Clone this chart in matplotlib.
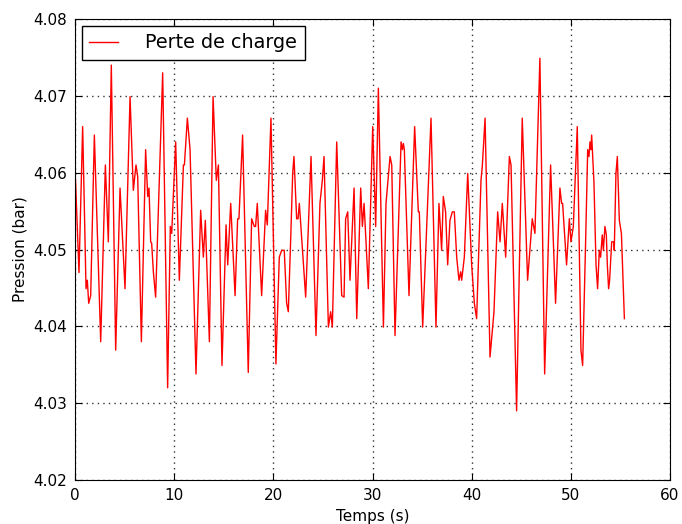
import matplotlib
matplotlib.use("Agg")
import matplotlib.pyplot as plt
from matplotlib.ticker import FormatStrFormatter

temps = [0.05, 0.4, 0.77, 1.11, 1.24, 1.38, 1.58, 1.95, 2.59, 3.06, 3.36, 3.66,
         4.10, 4.54, 5.04, 5.55, 5.88, 6.15, 6.32, 6.69, 7.12, 7.33, 7.46, 7.63,
         7.73, 7.90, 8.13, 8.84, 9.34, 9.61, 9.75, 10.15, 10.52, 10.93, 11.03,
         11.33, 11.6, 12.2, 12.67, 12.94, 13.14, 13.55, 13.92, 14.25, 14.46,
         14.82, 15.23, 15.4, 15.7, 16.14, 16.4, 16.53, 16.9, 17.47, 17.81,
         18.08, 18.21, 18.38, 18.82, 19.22, 19.39, 19.76, 20.26, 20.6, 20.84,
         21.1, 21.34, 21.51, 21.74, 21.95, 22.08, 22.35, 22.49, 22.62, 23.26,
         23.8, 24.3, 24.7, 24.94, 25.11, 25.55, 25.78, 25.95, 26.39, 26.89,
         27.13, 27.29, 27.5, 27.73, 28.14, 28.41, 28.81, 28.98, 29.15, 29.58,
         30.02, 30.32, 30.59, 31.1, 31.36, 31.77, 31.94, 32.27, 32.88, 33.01,
         33.11, 33.21, 33.68, 34.25, 34.62, 34.72, 35.06, 35.9, 36.4, 36.7,
         36.97, 37.14, 37.37, 37.58, 37.81, 38.05, 38.25, 38.49, 38.72, 38.89,
         38.99, 39.26, 39.6, 40.0, 40.27, 40.4, 40.5, 40.94, 41.08, 41.35,
         41.85, 42.25, 42.62, 42.86, 43.09, 43.43, 43.8, 43.97, 44.53, 45.1,
         45.64, 46.11, 46.38, 46.88, 47.36, 47.96, 48.46, 48.9, 49.07, 49.17,
         49.57, 49.85, 50.01, 50.25, 50.65, 51.02, 51.19, 51.49, 51.70, 51.83,
         51.93, 52.03, 52.1, 52.33, 52.54, 52.7, 52.87, 53.0, 53.17, 53.28,
         53.44, 53.58, 53.68, 53.81, 53.91, 54.12, 54.35, 54.38, 54.55, 54.69,
         54.89, 55.1, 55.4]

pression = [4.0590, 4.0470, 4.0660, 4.0449, 4.0460, 4.0430, 4.0440, 4.0649,
            4.0380, 4.0610, 4.0510, 4.0740, 4.0369, 4.0580, 4.0449, 4.0699,
            4.0577, 4.0610, 4.0595, 4.0380, 4.0630, 4.0569, 4.0580, 4.0510,
            4.0508, 4.0471, 4.0438, 4.0730, 4.0320, 4.0530, 4.0521, 4.0640,
            4.0460, 4.0610, 4.0610, 4.0671, 4.0630, 4.0338, 4.0551, 4.0490,
            4.0538, 4.0380, 4.0699, 4.0590, 4.0610, 4.0349, 4.0532, 4.0480,
            4.0560, 4.0440, 4.0540, 4.0540, 4.0649, 4.0340, 4.0540, 4.0530,
            4.0530, 4.0560, 4.0440, 4.0551, 4.0532, 4.0671, 4.0351, 4.0490,
            4.0499, 4.0499, 4.0430, 4.0419, 4.0510, 4.0599, 4.0621, 4.0540,
            4.0540, 4.0560, 4.0438, 4.0621, 4.0388, 4.0560, 4.0590, 4.0621,
            4.0399, 4.0419, 4.0399, 4.0640, 4.0440, 4.0438, 4.0540, 4.0549,
            4.0460, 4.0580, 4.0410, 4.0580, 4.0530, 4.0560, 4.0449, 4.0660,
            4.0530, 4.0710, 4.0399, 4.0560, 4.0621, 4.0610, 4.0388, 4.0640,
            4.0630, 4.0638, 4.0630, 4.0440, 4.0660, 4.0549, 4.0549, 4.0399,
            4.0671, 4.0399, 4.0560, 4.0499, 4.0569, 4.0549, 4.0480, 4.0538,
            4.0549, 4.0549, 4.0490, 4.0460, 4.0471, 4.0460, 4.0490, 4.0599,
            4.0480, 4.0430, 4.0419, 4.0410, 4.0590, 4.0610, 4.0671, 4.0360,
            4.0419, 4.0549, 4.0510, 4.0560, 4.0490, 4.0621, 4.0610, 4.0290,
            4.0671, 4.0460, 4.0540, 4.0521, 4.0749, 4.0338, 4.0610, 4.0430,
            4.0580, 4.0560, 4.0560, 4.0480, 4.0540, 4.0510, 4.0530, 4.0660,
            4.0369, 4.0349, 4.0510, 4.0630, 4.0621, 4.0640, 4.0630, 4.0649,
            4.0588, 4.0480, 4.0449, 4.0499, 4.0490, 4.0519, 4.0499, 4.0530,
            4.0519, 4.0480, 4.0449, 4.0460, 4.0510, 4.0510, 4.0499, 4.0599,
            4.0621, 4.0538, 4.0521, 4.0410]

x_ticks = [0, 10, 20, 30, 40, 50, 60]
y_ticks = [4.02, 4.03, 4.04, 4.05, 4.06, 4.07, 4.08]

plt.rcParams['font.family'] = 'DejaVu Sans'
plt.rcParams['font.size'] = 11
plt.rcParams['xtick.direction'] = 'in'
plt.rcParams['ytick.direction'] = 'in'
plt.rcParams['xtick.top'] = True
plt.rcParams['ytick.right'] = True
plt.rcParams['xtick.major.size'] = 5
plt.rcParams['ytick.major.size'] = 5
plt.rcParams['xtick.major.pad'] = 6
plt.rcParams['ytick.major.pad'] = 6

fig = plt.figure(figsize=(6.82, 5.24), dpi=100, facecolor='white')
ax = fig.add_axes([0.110, 0.084, 0.8724, 0.8797])

ax.plot(temps, pression, 'r-', linewidth=1.0, label="Perte de charge")

ax.set_xlim(0, 60)
ax.set_ylim(4.02, 4.08)
ax.set_xticks(x_ticks)
ax.set_yticks(y_ticks)
ax.yaxis.set_major_formatter(FormatStrFormatter('%.2f'))
ax.grid(True, color='k', linestyle=(0, (1, 3)), linewidth=1.0, alpha=0.8)
ax.set_xlabel("Temps (s)")
ax.set_ylabel("Pression (bar)")

leg = ax.legend(loc='upper left', fontsize=13.8, fancybox=False,
                edgecolor='black', framealpha=1.0, handlelength=1.5,
                handletextpad=1.4, borderaxespad=0.35)
leg.get_frame().set_linewidth(1.0)

fig.savefig("out.png", dpi=100, facecolor='white')
